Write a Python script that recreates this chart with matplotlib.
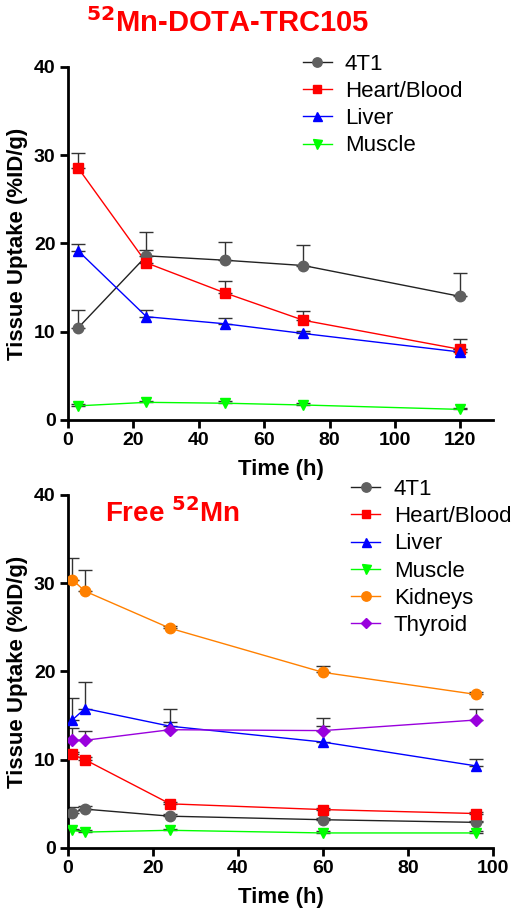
import matplotlib
matplotlib.use("Agg")
import matplotlib.pyplot as plt
from matplotlib.lines import Line2D

plt.rcParams['font.family'] = ['Liberation Sans', 'DejaVu Sans']

# ---- Top panel data: 52Mn-DOTA-TRC105 ----
top_time = [3, 24, 48, 72, 120]
top_4t1 = [10.4, 18.6, 18.1, 17.5, 14.0]
top_4t1_err = [2.1, 2.7, 2.1, 2.3, 2.7]
top_heart = [28.6, 17.8, 14.4, 11.3, 8.0]
top_heart_err = [1.6, 1.5, 1.4, 1.1, 1.2]
top_liver = [19.2, 11.7, 10.9, 9.8, 7.7]
top_liver_err = [0.7, 0.8, 0.7, 0.3, 0.3]
top_muscle = [1.6, 2.0, 1.9, 1.7, 1.2]
top_muscle_err = [0.2, 0.2, 0.2, 0.2, 0.2]

# ---- Bottom panel data: Free 52Mn ----
bot_time = [1, 4, 24, 60, 96]
bot_4t1 = [4.0, 4.4, 3.6, 3.2, 2.9]
bot_4t1_err = [0.65, 0.3, 0.2, 0.2, 0.2]
bot_heart = [10.6, 10.0, 5.0, 4.35, 3.9]
bot_heart_err = [0.3, 0.3, 0.2, 0.2, 0.2]
bot_liver = [14.5, 15.8, 13.8, 12.0, 9.3]
bot_liver_err = [2.5, 3.0, 0.5, 1.8, 0.8]
bot_muscle = [2.0, 1.8, 2.0, 1.7, 1.7]
bot_muscle_err = [0.2, 0.2, 0.2, 0.2, 0.2]
bot_kidney = [30.4, 29.1, 24.9, 19.9, 17.4]
bot_kidney_err = [2.5, 2.4, 0.3, 0.7, 0.3]
bot_thyroid = [12.2, 12.2, 13.4, 13.3, 14.5]
bot_thyroid_err = [1.4, 1.0, 2.4, 1.4, 1.3]

styles = {
    '4T1': dict(marker='o', mfc='#606060', mec='#606060', color='#222222'),
    'Heart/Blood': dict(marker='s', mfc='#ff0000', mec='#ff0000', color='#ff0000'),
    'Liver': dict(marker='^', mfc='#0000ff', mec='#0000ff', color='#0000ff'),
    'Muscle': dict(marker='v', mfc='#00ff00', mec='#00ff00', color='#00ff00'),
    'Kidneys': dict(marker='o', mfc='#ff8000', mec='#ff8000', color='#ff8000'),
    'Thyroid': dict(marker='D', mfc='#9900dd', mec='#9900dd', color='#9900dd'),
}
msize = {'o': 7.5, 's': 6.8, '^': 7.2, 'v': 7.2, 'D': 6.2}

fig = plt.figure(figsize=(5.18, 9.17), dpi=100)
ax1 = fig.add_axes([0.1313, 0.542, 0.8204, 0.385])
ax2 = fig.add_axes([0.1313, 0.0753, 0.8204, 0.3849])


def draw(ax, t, series):
    handles = []
    for name, y, e in series:
        st = styles[name]
        ax.errorbar(t, y, yerr=[[0] * len(e), e], fmt='none', ecolor='#333333',
                    elinewidth=1.0, capsize=5, capthick=1.0, zorder=2)
        ax.plot(t, y, color=st['color'], lw=1.0, zorder=3)
        ax.plot(t, y, ls='none', marker=st['marker'], ms=msize[st['marker']],
                mfc=st['mfc'], mec=st['mec'], zorder=4)
        handles.append(Line2D([0], [0], color=st['color'], lw=1.0, marker=st['marker'],
                              ms=msize[st['marker']] * 0.9, mfc=st['mfc'], mec=st['mec'], label=name))
    return handles


def style_axes(ax, xmax, xticks):
    ax.set_ylim(0, 40)
    ax.set_yticks([0, 10, 20, 30, 40])
    ax.set_xlim(0, xmax)
    ax.set_xticks(xticks)
    for s in ['top', 'right']:
        ax.spines[s].set_visible(False)
    for s in ['left', 'bottom']:
        ax.spines[s].set_linewidth(2)
    ax.tick_params(direction='out', length=6, width=2, labelsize=14, pad=3)
    for lab in ax.get_xticklabels() + ax.get_yticklabels():
        lab.set_fontweight('bold')
    ax.set_ylabel('Tissue Uptake (%ID/g)', fontsize=16, fontweight='bold', labelpad=4)
    ax.set_xlabel('Time (h)', fontsize=16, fontweight='bold', labelpad=7)


h1 = draw(ax1, top_time, [('4T1', top_4t1, top_4t1_err),
                          ('Heart/Blood', top_heart, top_heart_err),
                          ('Liver', top_liver, top_liver_err),
                          ('Muscle', top_muscle, top_muscle_err)])
style_axes(ax1, 130, [0, 20, 40, 60, 80, 100, 120])
ax1.legend(handles=h1, loc='upper left', bbox_to_anchor=(0.505, 1.094), frameon=False,
           fontsize=16, handlelength=1.3, handletextpad=0.6, labelspacing=0.28)

h2 = draw(ax2, bot_time, [('4T1', bot_4t1, bot_4t1_err),
                          ('Heart/Blood', bot_heart, bot_heart_err),
                          ('Liver', bot_liver, bot_liver_err),
                          ('Muscle', bot_muscle, bot_muscle_err),
                          ('Kidneys', bot_kidney, bot_kidney_err),
                          ('Thyroid', bot_thyroid, bot_thyroid_err)])
style_axes(ax2, 100, [0, 20, 40, 60, 80, 100])
ax2.legend(handles=h2, loc='upper left', bbox_to_anchor=(0.62, 1.102), frameon=False,
           fontsize=16, handlelength=1.3, handletextpad=0.6, labelspacing=0.28)

fig.text(0.44, 0.975, r'$^{\mathbf{52}}$Mn-DOTA-TRC105', color='#ff0000', fontsize=21,
         fontweight='bold', ha='center', va='center')
fig.text(0.333, 0.44, r'Free $^{\mathbf{52}}$Mn', color='#ff0000', fontsize=20,
         fontweight='bold', ha='center', va='center')

fig.savefig('out.png', dpi=100)
